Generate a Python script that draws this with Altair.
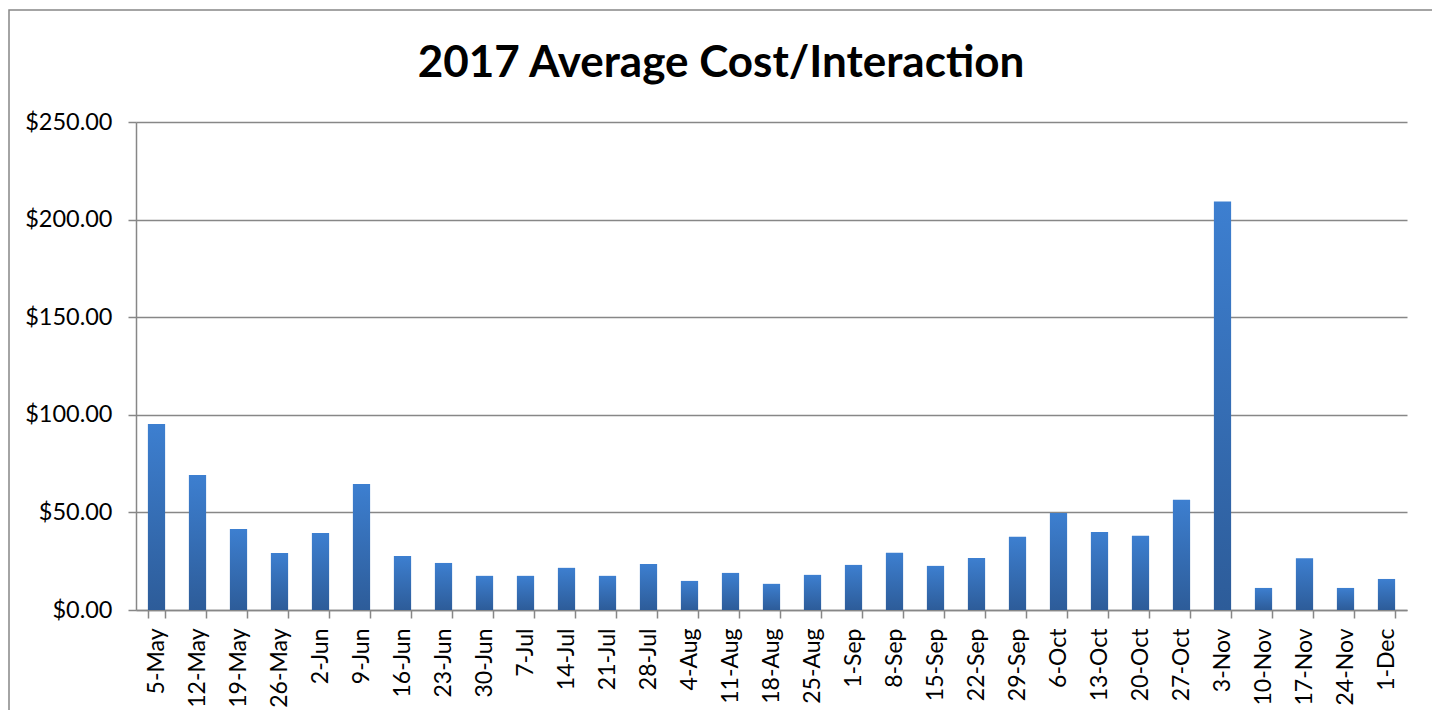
import altair as alt
import pandas as pd

weeks = ["5-May", "12-May", "19-May", "26-May", "2-Jun", "9-Jun", "16-Jun", "23-Jun",
         "30-Jun", "7-Jul", "14-Jul", "21-Jul", "28-Jul", "4-Aug", "11-Aug", "18-Aug",
         "25-Aug", "1-Sep", "8-Sep", "15-Sep", "22-Sep", "29-Sep", "6-Oct", "13-Oct",
         "20-Oct", "27-Oct", "3-Nov", "10-Nov", "17-Nov", "24-Nov", "1-Dec"]
cost = [95.3, 69.2, 41.5, 29.2, 39.4, 64.5, 27.7, 24.1,
        17.5, 17.5, 21.6, 17.5, 23.6, 14.9, 19.0, 13.4,
        18.0, 23.1, 29.3, 22.6, 26.7, 37.5, 49.7, 40.0,
        38.0, 56.5, 209.3, 11.3, 26.5, 11.3, 15.9]
y_ticks = [0, 50, 100, 150, 200, 250]
title_text = ["2017 Average Cost/Interaction"]

df = pd.DataFrame({"week": weeks, "cost": cost})

FONT = "Lato"
GRAY = "#878787"

grad = alt.Gradient(
    gradient="linear",
    x1=0, x2=0, y1=0, y2=1,
    stops=[alt.GradientStop(color="#3D7FD0", offset=0),
           alt.GradientStop(color="#2D5C99", offset=1)],
)

bars = alt.Chart(df).mark_bar(color=grad).encode(
    x=alt.X("week:N", sort=weeks,
            scale=alt.Scale(paddingInner=0.58, paddingOuter=0.29),
            axis=alt.Axis(title=None, labelAngle=-90, labelFontSize=23, labelFont=FONT,
                          labelColor="#000000", tickBand="extent", tickSize=8,
                          tickColor=GRAY, tickWidth=1.5, domainColor=GRAY, domainWidth=1.5,
                          labelPadding=10, grid=False)),
    y=alt.Y("cost:Q", scale=alt.Scale(domain=[0, 250], nice=False),
            axis=alt.Axis(title=None, values=y_ticks, format="$,.2f", labelFontSize=23.5,
                          labelFont=FONT, labelColor="#000000", tickSize=8, tickColor=GRAY,
                          tickWidth=1.5, domainColor=GRAY, domainWidth=1.5, labelPadding=16,
                          grid=True, gridColor=GRAY, gridWidth=1.5)),
)

border = alt.Chart(pd.DataFrame({"a": [0]})).mark_rect(
    fill=None, stroke=GRAY, strokeWidth=1.5
).encode(
    x=alt.value(-127), x2=alt.value(1298), y=alt.value(-112), y2=alt.value(640)
)

title = alt.Chart(pd.DataFrame({"t": title_text})).mark_text(
    font=FONT, fontSize=44, fontWeight="bold", color="#000000",
    align="center", baseline="alphabetic"
).encode(
    text="t:N", x=alt.value(585), y=alt.value(-45)
)

chart = alt.layer(border, bars, title).properties(
    width=1271, height=488,
    padding={"left": 128, "top": 114, "right": 25, "bottom": 100},
    autosize=alt.AutoSizeParams(type="none"),
).configure_view(stroke=None)

chart.save("out.html", embed_options={"renderer": "svg", "actions": False})
